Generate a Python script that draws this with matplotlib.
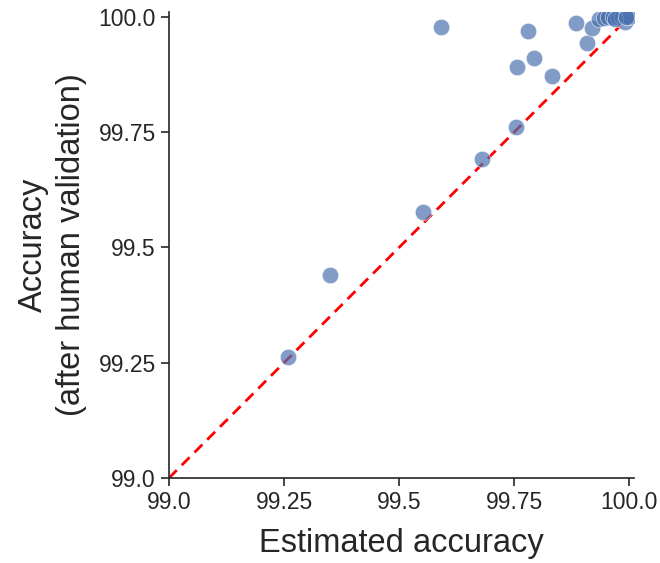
import numpy as np
import matplotlib
matplotlib.use("Agg")
import matplotlib.pyplot as plt
import seaborn as sns

# estimated vs validated accuracy (%)
estimated = [99.258, 99.350, 99.552, 99.680, 99.754, 99.591, 99.756, 99.780,
             99.793, 99.832, 99.884, 99.908, 99.920, 99.935, 99.945, 99.955,
             99.965, 99.975, 99.985, 99.990, 99.995, 100.0, 99.970, 99.992]
validated = [99.262, 99.440, 99.577, 99.692, 99.761, 99.978, 99.892, 99.970,
             99.911, 99.872, 99.987, 99.944, 99.977, 99.995, 99.998, 100.0,
             100.0, 100.0, 100.0, 99.99, 100.0, 100.0, 99.995, 100.0]
ticks = [99.0, 99.25, 99.5, 99.75, 100.0]
tick_labels = ["99.0", "99.25", "99.5", "99.75", "100.0"]

sns.set_theme(style="ticks")
plt.rcParams['font.family'] = ['Liberation Sans', 'DejaVu Sans']

fig = plt.figure(figsize=(6.6, 5.63), dpi=100)
ax = fig.add_axes([0.256, 0.151, 0.705, 0.828])

ax.scatter(estimated, validated, s=140, color="#4C72B0", alpha=0.7,
           edgecolor="white", linewidth=0.5, zorder=3)
ax.plot([99.0, 100.0], [99.0, 100.0], color="red", linestyle="--",
        linewidth=2, dashes=(4, 2.5), zorder=2)

ax.set_xlim(99.0, 100.011)
ax.set_ylim(99.0, 100.011)
ax.set_xticks(ticks)
ax.set_xticklabels(tick_labels)
ax.set_yticks(ticks)
ax.set_yticklabels(tick_labels)
ax.tick_params(labelsize=16.5, length=6, width=1.2, colors="#262626")
for side in ["left", "bottom"]:
    ax.spines[side].set_linewidth(1.2)
    ax.spines[side].set_color("#262626")
sns.despine(ax=ax)

ax.set_xlabel("Estimated accuracy", fontsize=23.5, color="#262626", labelpad=10)
ax.set_ylabel("Accuracy\n(after human validation)", fontsize=23.5,
              color="#262626", linespacing=1.3, labelpad=8)

fig.savefig("out.png", dpi=100)
